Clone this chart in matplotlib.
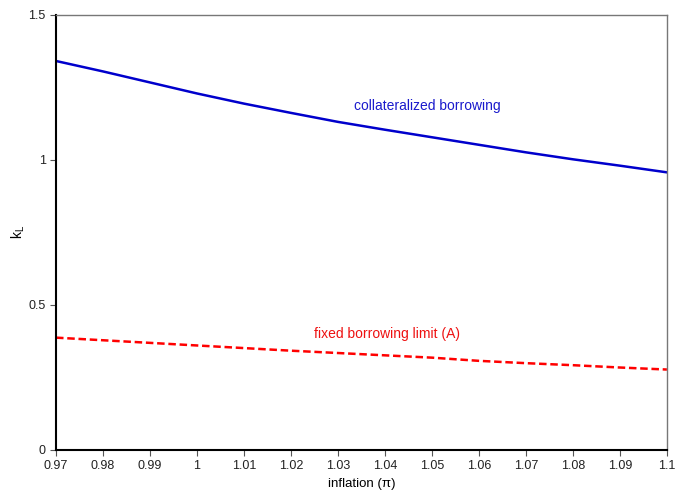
import matplotlib
matplotlib.use("Agg")
import matplotlib.pyplot as plt

plt.rcParams['font.family'] = ['Liberation Sans', 'DejaVu Sans']
plt.rcParams['mathtext.fontset'] = 'custom'
plt.rcParams['mathtext.rm'] = 'Liberation Sans'
plt.rcParams['mathtext.it'] = 'Liberation Sans'

inflation = [0.97, 0.98, 0.99, 1.00, 1.01, 1.02, 1.03, 1.04, 1.05, 1.06, 1.07, 1.08, 1.09, 1.10]
collateralized = [1.341, 1.305, 1.267, 1.229, 1.194, 1.162, 1.131, 1.104, 1.078, 1.052, 1.026, 1.002, 0.980, 0.957]
fixed_limit = [0.387, 0.378, 0.369, 0.360, 0.351, 0.342, 0.334, 0.326, 0.318, 0.307, 0.299, 0.292, 0.284, 0.277]
xticks = [0.97, 0.98, 0.99, 1.0, 1.01, 1.02, 1.03, 1.04, 1.05, 1.06, 1.07, 1.08, 1.09, 1.1]
xticklabels = ['0.97', '0.98', '0.99', '1', '1.01', '1.02', '1.03', '1.04', '1.05', '1.06', '1.07', '1.08', '1.09', '1.1']
yticks = [0, 0.5, 1, 1.5]
yticklabels = ['0', '0.5', '1', '1.5']

fig = plt.figure(figsize=(6.75, 4.96), dpi=100)
ax = fig.add_axes([0.083, 0.093, 0.905, 0.877])
ax.plot(inflation, collateralized, color='#0000CC', lw=1.8)
ax.plot(inflation, fixed_limit, color='#FF0000', lw=1.8, ls=(0, (3, 1.5)))
ax.set_xlim(0.97, 1.1)
ax.set_ylim(0, 1.5)
ax.set_xticks(xticks)
ax.set_xticklabels(xticklabels)
ax.set_yticks(yticks)
ax.set_yticklabels(yticklabels)
ax.tick_params(direction='out', length=4, labelsize=9, color='#555555', width=0.8,
               labelcolor='#222222')
for s in ['top', 'right']:
    ax.spines[s].set_color('#777777')
    ax.spines[s].set_linewidth(1.0)
for s in ['left', 'bottom']:
    ax.spines[s].set_color('black')
    ax.spines[s].set_linewidth(1.5)
ax.set_xlabel('inflation (\u03c0)', fontsize=9.5, labelpad=4)
ax.set_ylabel('$\\mathregular{k_L}$', fontsize=10)
ax.yaxis.set_label_coords(-0.048, 0.5)
ax.text(1.049, 1.185, 'collateralized borrowing', color='#1a1acc', fontsize=10, ha='center', va='center')
ax.text(1.0404, 0.40, 'fixed borrowing limit (A)', color='#ee1111', fontsize=10, ha='center', va='center')
fig.savefig('out.png', dpi=100)
